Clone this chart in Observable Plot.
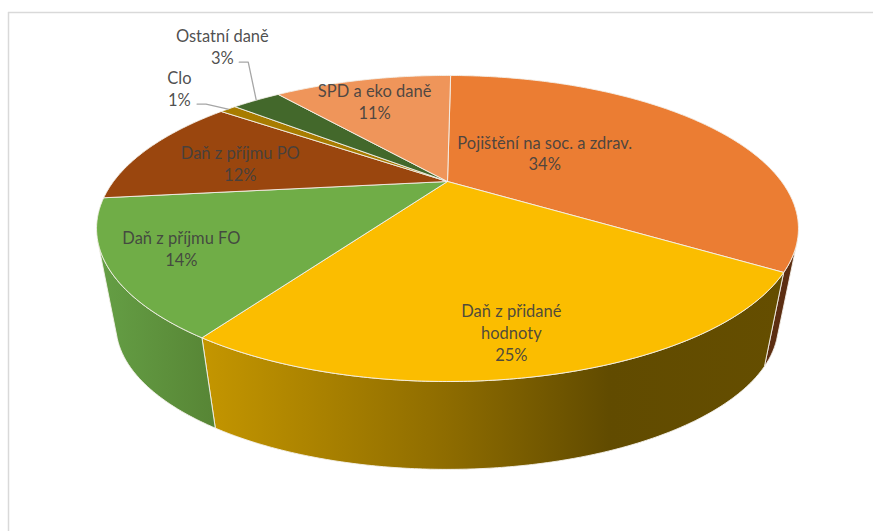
<!DOCTYPE html>
<html lang="cs">
<head>
<meta charset="utf-8">
<title>Struktura daňových příjmů</title>
<script src="https://cdn.jsdelivr.net/npm/d3@7"></script>
<script src="https://cdn.jsdelivr.net/npm/@observablehq/plot@0.6"></script>
<style>
  html, body { margin: 0; padding: 0; background: #fff; }
  svg { display: block; }
</style>
</head>
<body>
<div id="chart"></div>
<script>
// Shares of tax revenue, clockwise from twelve o'clock
const categories = ["Pojištění na soc. a zdrav.", "Daň z přidané\nhodnoty", "Daň z příjmu FO", "Daň z příjmu PO", "Clo", "Ostatní daně", "SPD a eko daně"];
const shares = [34, 25, 14, 12, 1, 3, 11];
const topColors = ["#eb7d33", "#fbbd00", "#70ad47", "#9a460e", "#a87c00", "#43682b", "#ef955a"];
const sideColors = ["#5c2e12", "url(#wall-yellow)", "url(#wall-green)", "#5c2e12", "#5c4500", "#2c451c", "#8f5a36"];

// Label centres on the disc, as [bearing in degrees, fraction of the radius]
const labelSpot = [[55.2, 0.378], [170.1, 0.832], [238.4, 0.813], [281.8, 0.66], [309.9, 1.318], [325.3, 1.689], [339.3, 0.75]];
// Leader elbows relative to the rim midpoint of the slice
const leaderElbow = [null, null, null, null, [-22, -5], [-8, -38], null];

// Perspective of the disc: centre, foreshortening and depth of the wall
const W = 873, H = 531;
const cx = 447, cy = 181, a = 334, b = 138.6, k = 0.307;
const vanish = [440, 1950], wallScale = 0.944;
const turn = 0.7; // degrees

function project(deg, r = 1, level = 0) {
  const t = deg * Math.PI / 180;
  const u = r * Math.sin(t), v = r * Math.cos(t), d = 1 + k * v;
  const x = cx + a * u / d, y = cy - b * v / d;
  if (!level) return {x, y};
  return {x: vanish[0] + wallScale * (x - vanish[0]), y: vanish[1] + wallScale * (y - vanish[1])};
}

const total = d3.sum(shares);
const ends = Array.from(d3.cumsum(shares), (c) => c / total * 360 + turn);
const starts = [turn, ...ends.slice(0, -1)];

// The wall faces the viewer only between its two silhouette bearings
const bearings = d3.range(0, 360, 0.25);
const lean = (deg) => {
  const p = project(deg);
  return (p.x - vanish[0]) / (vanish[1] - p.y);
};
const wallFrom = d3.greatest(bearings, lean);
const wallTo = d3.least(bearings, lean);

function arc(from, to, level) {
  const n = Math.max(2, Math.ceil(Math.abs(to - from) * 2));
  return d3.range(n + 1).map((i) => project(from + (to - from) * i / n, 1, level));
}
const topPath = (i) => {
  const pts = [project(0, 0), ...arc(starts[i], ends[i], 0)];
  return [...pts, pts[0]];
};
const wallPath = (i) => {
  const from = Math.max(starts[i], wallFrom), to = Math.min(ends[i], wallTo);
  if (from >= to) return [];
  const pts = [...arc(from, to, 0), ...arc(to, from, 1)];
  return [...pts, pts[0]];
};

const labels = categories.map((name, i) => {
  const p = project(labelSpot[i][0], labelSpot[i][1]);
  return {text: `${name}\n${shares[i]}%`, x: p.x, y: p.y};
});

const leaders = categories.flatMap((_, i) => {
  if (!leaderElbow[i]) return [];
  const rim = project((starts[i] + ends[i]) / 2);
  const elbow = {x: rim.x + leaderElbow[i][0], y: rim.y + leaderElbow[i][1]};
  const tail = {x: elbow.x - 9, y: elbow.y};
  return [[tail, elbow, rim]];
});

// Horizontal shading of the front walls
function wallGradient(id, stops) {
  const defs = d3.create("svg:defs");
  const g = defs.append("linearGradient").attr("id", id).attr("x1", 0).attr("x2", 1).attr("y1", 0).attr("y2", 0);
  for (const [o, c] of stops) g.append("stop").attr("offset", o).attr("stop-color", c);
  return () => defs.node();
}

const edge = {stroke: "#f4f1ea", strokeWidth: 0.9, strokeLinejoin: "round"};

const plot = Plot.plot({
  width: W,
  height: H,
  margin: 0,
  style: {background: "#fff"},
  x: {domain: [0, W], range: [0, W], axis: null},
  y: {domain: [0, H], range: [0, H], axis: null},
  marks: [
    wallGradient("wall-yellow", [[0, "#c49600"], [0.42, "#8e6c00"], [0.7, "#614b00"], [1, "#654e00"]]),
    wallGradient("wall-green", [[0, "#659f45"], [1, "#578535"]]),
    Plot.ruleY([12], {x1: 8, x2: W, stroke: "#d9d9d9", strokeWidth: 1.5}),
    Plot.ruleX([8], {y1: 12, y2: H, stroke: "#d9d9d9", strokeWidth: 1.5}),
    ...shares.map((_, i) => Plot.line(wallPath(i), {x: "x", y: "y", fill: sideColors[i], ...edge})),
    ...shares.map((_, i) => Plot.line(topPath(i), {x: "x", y: "y", fill: topColors[i], ...edge})),
    ...leaders.map((l) => Plot.line(l, {x: "x", y: "y", stroke: "#a6a6a6", strokeWidth: 1.3})),
    Plot.text(labels, {
      x: "x",
      y: "y",
      dy: -1,
      text: "text",
      fill: "#404040",
      fillOpacity: 0.92,
      fontFamily: "Lato",
      fontSize: 16.5,
      lineHeight: 1.333,
      lineAnchor: "middle"
    })
  ]
});
document.getElementById("chart").append(plot);
</script>
</body>
</html>
